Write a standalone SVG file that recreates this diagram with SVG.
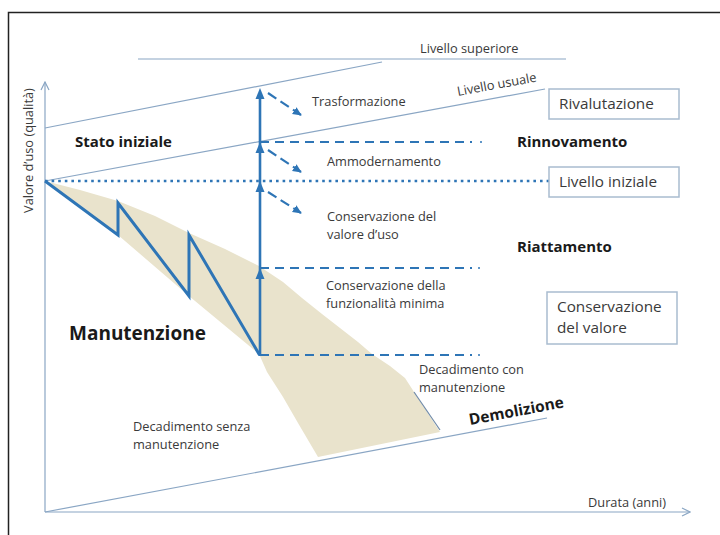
<svg xmlns="http://www.w3.org/2000/svg" width="720" height="535" viewBox="0 0 720 535">
<style>
.t{font-family:"Open Sans","Liberation Sans",sans-serif;fill:#3a3a3a;font-size:12.8px}
.b{font-family:"Open Sans","Liberation Sans",sans-serif;fill:#1a1a1a;font-weight:bold;font-size:15px}
.bx{font-family:"Open Sans","Liberation Sans",sans-serif;fill:#3a3a3a;font-size:15.3px}
.thin{stroke:#8aa6c4;stroke-width:1.2;fill:none}
.blue{stroke:#2e75b6;fill:none}
.dash{stroke:#2e75b6;stroke-width:2.2;stroke-dasharray:9 6;fill:none}
.box{fill:#fff;stroke:#a9bccf;stroke-width:1.5}
</style>
<defs>
<marker id="open" viewBox="0 0 10 10" refX="9" refY="5" markerWidth="10" markerHeight="10" markerUnits="userSpaceOnUse" orient="auto">
<path d="M1,1 L9,5 L1,9" fill="none" stroke="#8aa6c4" stroke-width="1.2"/>
</marker>
<marker id="fill" viewBox="0 0 10 10" refX="9" refY="5" markerWidth="9" markerHeight="9" markerUnits="userSpaceOnUse" orient="auto">
<path d="M0,0.5 L10,5 L0,9.5 Z" fill="#2e75b6"/>
</marker>
<path id="ah" d="M0,0 L4.5,11 L-4.5,11 Z" fill="#2e75b6"/>
</defs>
<rect width="720" height="535" fill="#fff"/>
<rect x="8.5" y="12.5" width="720" height="540" fill="none" stroke="#222" stroke-width="1.5"/>

<g id="band">
<path d="M45,181 L80,190 L118,201 L155,216 L189,233 L225,249 L259,266 L283,282 L302,298 L322,314 L340,328 L358,342 L372,354 L390,366 L405,378 L440,432 L318,457 L298,423 L283,397 L267,372 L259,354 L189,296 L118,235 Z" fill="#e9e3cc"/>
</g>

<g id="connectors">
<line class="thin" x1="45" y1="512" x2="45" y2="82" marker-end="url(#open)"/>
<line class="thin" x1="45" y1="512" x2="690" y2="512" marker-end="url(#open)"/>
<line class="thin" x1="138" y1="59" x2="566" y2="59"/>
<line class="thin" x1="45" y1="128" x2="382" y2="62"/>
<line class="thin" x1="45" y1="181" x2="545" y2="89"/>
<line class="thin" x1="45" y1="512" x2="547" y2="418"/>
<line x1="414" y1="392" x2="440" y2="430" stroke="#6f8aa8" stroke-width="1.2"/>
<line x1="45" y1="181" x2="550" y2="181" stroke="#2e75b6" stroke-width="2.6" stroke-dasharray="2.6 4" />
<line class="dash" x1="260" y1="142" x2="472" y2="142"/>
<line class="dash" x1="260" y1="268" x2="472" y2="268"/>
<line class="dash" x1="260" y1="355" x2="472" y2="355"/>
<circle cx="481" cy="142" r="1" fill="#2e75b6"/>
<circle cx="479" cy="268" r="1" fill="#2e75b6"/>
<circle cx="479" cy="355" r="1" fill="#2e75b6"/>
<polyline class="blue" stroke-width="3" stroke-linejoin="miter" points="45,181 118,235 118,203 189,296 189,235 259,354 260,355"/>
<line class="blue" stroke-width="2.6" x1="260" y1="356" x2="260" y2="96"/>
<use href="#ah" x="260" y="88"/>
<use href="#ah" x="260" y="142"/>
<use href="#ah" x="260" y="181"/>
<use href="#ah" x="260" y="268"/>
<line class="blue" stroke-width="2.2" stroke-dasharray="10 5" x1="268" y1="93" x2="301" y2="115" marker-end="url(#fill)"/>
<line class="blue" stroke-width="2.2" stroke-dasharray="10 5" x1="268" y1="150" x2="301" y2="172" marker-end="url(#fill)"/>
<line class="blue" stroke-width="2.2" stroke-dasharray="10 5" x1="268" y1="192" x2="301" y2="213" marker-end="url(#fill)"/>
</g>

<g id="zig-label"><text class="b" x="69" y="340" style="font-size:19px">Manutenzione</text></g>
<g id="stato"><text class="b" x="75" y="147">Stato iniziale</text></g>
<g id="rinnovamento"><text class="b" x="517" y="147">Rinnovamento</text></g>
<g id="riattamento"><text class="b" x="517" y="252">Riattamento</text></g>
<g id="demolizione"><text class="b" transform="translate(470,425) rotate(-10.6)" style="font-size:15.5px">Demolizione</text></g>
<g id="sup"><text class="t" x="420" y="53">Livello superiore</text></g>
<g id="usuale"><text class="t" transform="translate(458,96) rotate(-10.4)">Livello usuale</text></g>
<g id="trasf"><text class="t" x="312" y="106">Trasformazione</text></g>
<g id="ammod"><text class="t" x="327" y="166">Ammodernamento</text></g>
<g id="cons-uso"><text class="t" x="327" y="221">Conservazione del</text><text class="t" x="327" y="239">valore d’uso</text></g>
<g id="cons-fun"><text class="t" x="326" y="290">Conservazione della</text><text class="t" x="326" y="308">funzionalità minima</text></g>
<g id="dec-con"><text class="t" x="419" y="374">Decadimento con</text><text class="t" x="419" y="392">manutenzione</text></g>
<g id="dec-senza"><text class="t" x="133" y="431">Decadimento senza</text><text class="t" x="133" y="449">manutenzione</text></g>
<g id="durata"><text class="t" x="588" y="507">Durata (anni)</text></g>
<g id="yaxis"><text class="t" transform="translate(33,213) rotate(-90)">Valore d’uso (qualità)</text></g>

<g id="rivalutazione"><rect class="box" x="549" y="89" width="130" height="30"/><text class="bx" x="559" y="109">Rivalutazione</text></g>
<g id="livello-iniziale"><rect class="box" x="549" y="167" width="130" height="30"/><text class="bx" x="559" y="187">Livello iniziale</text></g>
<g id="conservazione"><rect class="box" x="547" y="292" width="130" height="52"/><text class="bx" x="557" y="312">Conservazione</text><text class="bx" x="557" y="333">del valore</text></g>
</svg>
